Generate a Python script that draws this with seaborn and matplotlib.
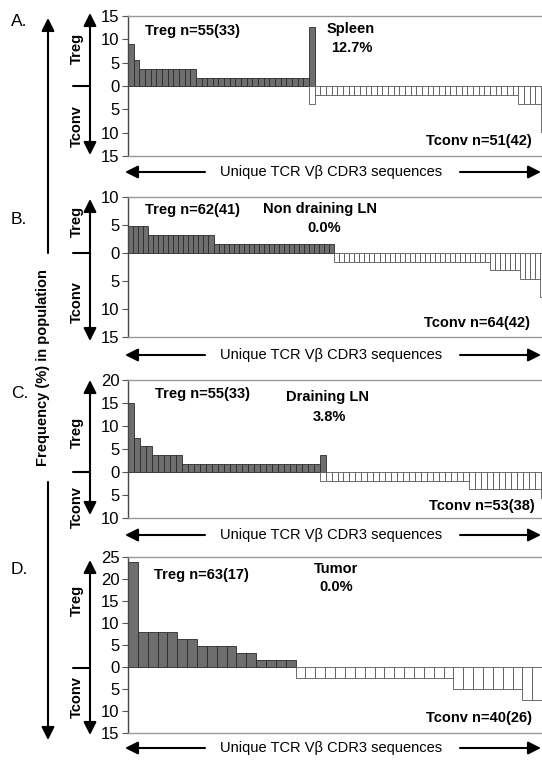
import numpy as np
import pandas as pd
import matplotlib
matplotlib.use("Agg")
import matplotlib.pyplot as plt
from matplotlib.patches import FancyArrowPatch
from matplotlib.lines import Line2D
from matplotlib.ticker import FuncFormatter, MultipleLocator
import seaborn as sns

# ---------------- data (value %, run length) ----------------
treg_a = [(9.1, 1), (5.5, 1), (3.6, 10), (1.8, 20), (12.7, 1)]
tconv_a = [(3.9, 1), (2.0, 36), (3.9, 4), (9.8, 1)]
tconv_a_start = 32

treg_b = [(4.8, 4), (3.2, 13), (1.6, 24)]
tconv_b = [(1.6, 31), (3.1, 6), (4.7, 4), (7.8, 1)]
tconv_b_start = 41

treg_c = [(15.0, 1), (7.5, 1), (5.6, 2), (3.7, 5), (1.8, 23), (3.7, 1)]
tconv_c = [(1.9, 25), (3.8, 12), (5.7, 1)]
tconv_c_start = 32

treg_d = [(23.8, 1), (7.9, 4), (6.3, 2), (4.8, 4), (3.2, 2), (1.6, 4)]
tconv_d = [(2.5, 16), (5.0, 7), (7.5, 3)]
tconv_d_start = 17

panel_letters = ["A.", "B.", "C.", "D."]
treg_labels = ["Treg n=55(33)", "Treg n=62(41)", "Treg n=55(33)", "Treg n=63(17)"]
tconv_labels = ["Tconv n=51(42)", "Tconv n=64(42)", "Tconv n=53(38)", "Tconv n=40(26)"]
tissues = ["Spleen", "Non draining LN", "Draining LN", "Tumor"]
shared = ["12.7%", "0.0%", "3.8%", "0.0%"]
ylims = [(-15, 15), (-15, 10), (-10, 20), (-15, 25)]

# ---------------- layout ----------------
W, H = 542, 762
sns.set_theme(style="white")
plt.rcParams["font.family"] = ["Liberation Sans", "DejaVu Sans"]
plt.rcParams["text.color"] = "black"
plt.rcParams["ytick.color"] = "black"
fig = plt.figure(figsize=(W / 100, H / 100), dpi=100)

def fx(x):
    return x / W

def fy(y):
    return 1 - y / H

# axes pixel boxes: (left, top, right, bottom)
boxes = [(128, 16, 546.5, 156), (128, 197, 545.5, 337),
         (128, 380, 547, 518), (128, 557, 552, 733)]

def expand(runs, start=0):
    vals = []
    for v, n in runs:
        vals += [v] * n
    return pd.DataFrame({"pos": np.arange(start, start + len(vals)), "val": vals})

panels = [(treg_a, tconv_a, tconv_a_start), (treg_b, tconv_b, tconv_b_start),
          (treg_c, tconv_c, tconv_c_start), (treg_d, tconv_d, tconv_d_start)]

fmt = FuncFormatter(lambda v, p: f"{abs(int(round(v)))}")

for i, ((tr, tc, st), box) in enumerate(zip(panels, boxes)):
    l, t, r, b = box
    ax = fig.add_axes([fx(l), fy(b), (r - l) / W, (b - t) / H])
    dtr = expand(tr, 0)
    dtc = expand(tc, st)
    dtc["neg"] = -dtc["val"]
    n_total = int(dtc["pos"].max()) + 1
    sns.barplot(data=dtr, x="pos", y="val", native_scale=True, width=1,
                color="#6e6e6e", saturation=1, edgecolor="#2a2a2a",
                linewidth=0.6, errorbar=None, ax=ax)
    sns.barplot(data=dtc, x="pos", y="neg", native_scale=True, width=1,
                color="white", saturation=1, edgecolor="#555555",
                linewidth=0.6, errorbar=None, ax=ax)
    ax.set_xlim(-0.5, n_total - 0.5)
    ax.set_ylim(*ylims[i])
    ax.yaxis.set_major_locator(MultipleLocator(5))
    ax.yaxis.set_major_formatter(fmt)
    ax.set_xlabel("")
    ax.set_ylabel("")
    ax.set_xticks([])
    ax.tick_params(axis="y", which="major", left=True, length=4, width=0.8,
                   color="#555555", labelsize=12, pad=2, labelcolor="black")
    for s in ["top", "bottom"]:
        ax.spines[s].set_color("#999999")
        ax.spines[s].set_linewidth(1.0)
    ax.spines["left"].set_color("#444444")
    ax.spines["left"].set_linewidth(1.0)
    ax.spines["right"].set_visible(False)

# ---------------- texts ----------------
def txt(x, y, s, **kw):
    fig.text(fx(x), fy(y), s, **kw)

bold = dict(fontsize=10.5, fontweight="bold", va="center", color="black")

# Panel letters
for s, y in zip(panel_letters, [21, 219, 393, 570]):
    txt(11, y, s, fontsize=12.5, va="center", ha="left")

# Treg labels
for s, (x, y) in zip(treg_labels, [(145, 31), (145, 210), (155, 394), (154, 575)]):
    txt(x, y, s, ha="left", **bold)

# Tconv labels
for s, (x, y) in zip(tconv_labels, [(532, 141), (529.5, 322.5), (535, 506), (532, 718)]):
    txt(x, y, s, ha="right", **bold)

# Tissue names and shared %
tissue_pos = [(351, 29), (320, 209), (328, 397.5), (336, 569)]
shared_pos = [(352, 48), (324, 228), (329, 417), (336, 587)]
for s, (x, y) in zip(tissues, tissue_pos):
    txt(x, y, s, ha="center", **bold)
for s, (x, y) in zip(shared, shared_pos):
    txt(x, y, s, ha="center", **bold)

# Bottom "Unique TCR" rows
def arrow(x1, y1, x2, y2, style="-|>", lw=1.5, ms=11):
    a = FancyArrowPatch((fx(x1), fy(y1)), (fx(x2), fy(y2)),
                        transform=fig.transFigure,
                        arrowstyle=f"{style},head_length=0.7,head_width=0.35",
                        mutation_scale=ms, lw=lw, color="black",
                        shrinkA=0, shrinkB=0)
    fig.add_artist(a)

for y in [172, 355, 535, 748]:
    txt(331, y, "Unique TCR V\u03b2 CDR3 sequences", fontsize=10.5,
        ha="center", va="center")
    arrow(205, y, 125, y)
    arrow(460, y, 541, y)

# Side Treg/Tconv arrows
side = [(13, 86, 155), (199, 253, 341), (380, 472, 515), (560, 668, 735)]
treg_side_y = [48, 221, 432, 600]
tconv_side_y = [126, 302, 507, 697]
for (top, zero, bot), ty, cy in zip(side, treg_side_y, tconv_side_y):
    arrow(90, zero, 90, top, style="-|>", lw=1.5, ms=11)
    arrow(90, zero, 90, bot, style="-|>", lw=1.5, ms=11)
    fig.add_artist(Line2D([fx(73), fx(90)], [fy(zero), fy(zero)],
                          transform=fig.transFigure, color="black", lw=1.5))
    txt(77, ty, "Treg", rotation=90, ha="center", fontsize=10.5,
        fontweight="bold", va="center")
    txt(77, cy, "Tconv", rotation=90, ha="center", fontsize=10.5,
        fontweight="bold", va="center")

# Big vertical arrow
arrow(48, 253, 48, 18, style="-|>", lw=1.5, ms=11)
arrow(48, 482, 48, 740, style="-|>", lw=1.5, ms=11)
txt(43, 368, "Frequency (%) in population", rotation=90, ha="center",
    va="center", fontsize=10.5, fontweight="bold")

fig.savefig("out.png", dpi=100)
